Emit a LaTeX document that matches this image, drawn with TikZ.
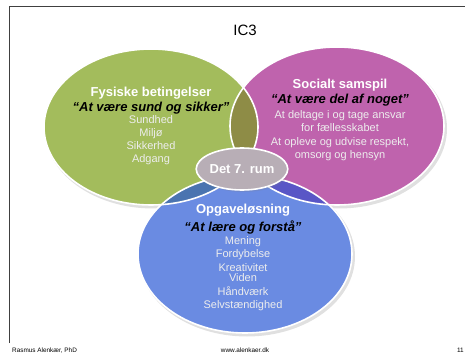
\documentclass[tikz,border=0pt]{standalone}
\usepackage{fontspec}
\setmainfont{Liberation Sans}
\usetikzlibrary{positioning,shapes.geometric,shadows}

\definecolor{fysgreen}{HTML}{A3BC5C}
\definecolor{socpurple}{HTML}{BF63AD}
\definecolor{opgblue}{HTML}{6A8BE2}
\definecolor{olivemix}{HTML}{8E8C46}
\definecolor{steelmix}{HTML}{4A74B0}
\definecolor{indigomix}{HTML}{5956C6}
\definecolor{rumgrey}{HTML}{B8AEB6}

\tikzset{
    ring/.style={draw=white, line width=1.6pt},
    blob/.style={fill=black, opacity=0.12},
    heading/.style={text=white, inner sep=0pt, font=\fontsize{13}{15}\selectfont\bfseries},
    motto/.style={text=black, inner sep=0pt, font=\fontsize{13}{15}\selectfont\bfseries\itshape},
    items/.style={text=white!93!black, inner sep=0pt, align=center, font=\fontsize{11}{13}\selectfont},
    footer/.style={inner sep=0pt, font=\fontsize{6.4}{7}\selectfont}
}

\begin{document}
\begin{tikzpicture}[x=1pt, y=-1pt]
    \useasboundingbox (0,0) rectangle (465,355);

    % Frame
    \draw[black!75, line width=0.8pt] (9,343) -- (9,6) -- (465,6);
    \node[font=\fontsize{15}{17}\selectfont] (title) at (245,30) {IC3};

    % Centres
    \coordinate (fys) at (151,127);
    \coordinate (soc) at (337,126);
    \coordinate (opg) at (245,254);

    % Shadows
    \fill[blob] ([shift={(2,2.5)}]fys) ellipse [x radius=108pt, y radius=79pt];
    \fill[blob] ([shift={(2,2.5)}]soc) ellipse [x radius=108pt, y radius=80pt];
    \fill[blob] ([shift={(2,2.5)}]opg) ellipse [x radius=108pt, y radius=80pt];

    % Circles
    \fill[fysgreen] (fys) ellipse [x radius=107pt, y radius=78pt];
    \fill[socpurple] (soc) ellipse [x radius=107pt, y radius=79pt];
    \fill[opgblue] (opg) ellipse [x radius=107pt, y radius=79pt];

    % Overlaps
    \begin{scope}
        \clip (fys) ellipse [x radius=107pt, y radius=78pt];
        \fill[olivemix] (soc) ellipse [x radius=107pt, y radius=79pt];
        \fill[steelmix] (opg) ellipse [x radius=107pt, y radius=79pt];
    \end{scope}
    \begin{scope}
        \clip (soc) ellipse [x radius=107pt, y radius=79pt];
        \fill[indigomix] (opg) ellipse [x radius=107pt, y radius=79pt];
    \end{scope}

    % White rims
    \draw[ring] (fys) ellipse [x radius=107pt, y radius=78pt];
    \draw[ring] (soc) ellipse [x radius=107pt, y radius=79pt];
    \draw[ring] (opg) ellipse [x radius=107pt, y radius=79pt];

    % Middle
    \node[ellipse, fill=rumgrey, ring, inner sep=0pt, minimum width=86pt, minimum height=42pt,
          drop shadow={shadow xshift=1.5pt, shadow yshift=-2pt, opacity=0.2},
          text=white, font=\fontsize{13}{15}\selectfont\bfseries] (rum) at (242,169) {Det 7. rum};

    % Fysiske betingelser
    \node[heading] (fyshead) at (151,93.3) {Fysiske betingelser};
    \node[motto, below=1.8pt of fyshead] (fysmotto) {“At være sund og sikker”};
    \node[items, below=1.5pt of fysmotto] (fysitems) {Sundhed\\Miljø\\Sikkerhed\\Adgang};

    % Socialt samspil
    \node[heading] (sochead) at (340,85.3) {Socialt samspil};
    \node[motto, below=2.8pt of sochead] (socmotto) {“At være del af noget”};
    \node[items, below=3.5pt of socmotto, font=\fontsize{11}{13.3}\selectfont] (socitems)
        {At deltage i og tage ansvar\\for fællesskabet\\At opleve og udvise respekt,\\omsorg og hensyn};

    % Opgaveløsning
    \node[heading] (opghead) at (243,210.3) {Opgaveløsning};
    \node[motto, below=4pt of opghead] (opgmotto) {“At lære og forstå”};
    \node[items, below=1.5pt of opgmotto] (opgitems)
        {Mening\\Fordybelse\\[1pt]Kreativitet\\[-3pt]Viden\\[1pt]Håndværk\\Selvstændighed};

    % Footer
    \node[footer, anchor=base west] (author) at (12,352) {Rasmus Alenkær, PhD};
    \node[footer, anchor=base] (web) at (245,352) {www.alenkaer.dk};
    \node[footer, anchor=base east] (page) at (464,352) {11};
\end{tikzpicture}
\end{document}
